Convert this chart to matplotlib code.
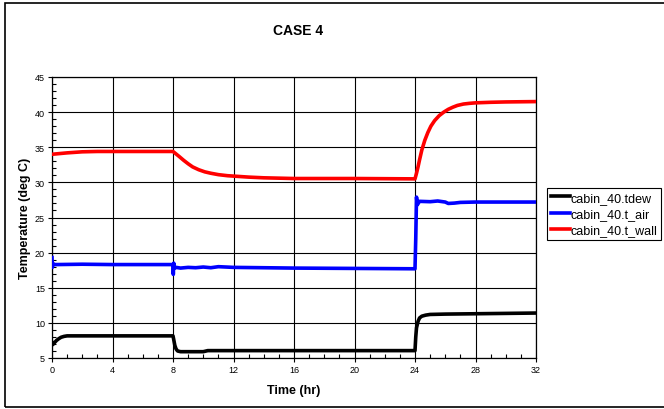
import matplotlib
matplotlib.use("Agg")
import matplotlib.pyplot as plt
from matplotlib.patches import Rectangle
from matplotlib.ticker import MultipleLocator

plt.rcParams['font.family'] = ['Liberation Sans', 'DejaVu Sans']

# values (time in hr, temperature in deg C)
tdew_t = [0, 0.05, 0.15, 0.3, 0.45, 0.6, 0.8, 1.0, 2, 8, 8.05, 8.12, 8.2, 8.3, 8.5, 10, 10.3,
          16, 24, 24.05, 24.1, 24.2, 24.3, 24.45, 24.7, 25, 26, 28, 32]
tdew_v = [7.2, 6.9, 7.15, 7.5, 7.75, 7.95, 8.08, 8.15, 8.15, 8.15, 7.6, 6.8, 6.3, 6.0, 5.9, 5.9,
          6.05, 6.05, 6.05, 8.0, 9.3, 10.2, 10.7, 10.95, 11.1, 11.2, 11.25, 11.3, 11.4]

air_t = [0, 0.02, 0.05, 0.1, 0.3, 2, 4, 8, 8.02, 8.05, 8.1, 8.2, 8.5, 9, 9.5, 10, 10.5,
         11, 12, 16, 20, 24, 24.05, 24.1, 24.15, 24.3, 25, 25.5, 26, 26.2, 26.6, 27, 28, 32]
air_v = [19.3, 17.9, 18.5, 18.3, 18.3, 18.35, 18.3, 18.3, 16.9, 18.5, 17.8, 17.9, 17.8, 17.9,
         17.85, 17.95, 17.85, 18.0, 17.9, 17.8, 17.75, 17.7, 22.0, 27.9, 26.8, 27.3, 27.25,
         27.35, 27.2, 27.0, 27.05, 27.15, 27.2, 27.2]

wall_t = [0, 0.5, 1, 2, 3, 8, 8.2, 8.4, 8.7, 9.0, 9.3, 9.7, 10.1, 10.5, 11.0, 11.6, 12.3,
          13, 14, 15, 16, 20, 24, 24.1, 24.2, 24.3, 24.45, 24.65, 24.85, 25.05, 25.3, 25.6,
          25.9, 26.2, 26.5, 26.8, 27.2, 27.6, 28, 29, 30, 32]
wall_v = [34.0, 34.1, 34.2, 34.35, 34.4, 34.4, 34.05, 33.7, 33.15, 32.65, 32.2, 31.8, 31.5,
          31.3, 31.1, 30.95, 30.85, 30.75, 30.65, 30.6, 30.55, 30.55, 30.5, 31.3, 32.2, 33.2,
          34.6, 36.0, 37.1, 38.0, 38.8, 39.5, 40.0, 40.4, 40.7, 40.95, 41.15, 41.25, 41.32,
          41.4, 41.45, 41.5]

labels = ["cabin_40.tdew", "cabin_40.t_air", "cabin_40.t_wall"]
colors = ["black", "blue", "red"]

W, H = 664, 410
fig = plt.figure(figsize=(W / 100, H / 100), dpi=100)
ax = fig.add_axes([52 / W, 1 - 359 / H, (536 - 52) / W, (359 - 78) / H])

for tt, vv, lab, col in zip([tdew_t, air_t, wall_t], [tdew_v, air_v, wall_v], labels, colors):
    ax.plot(tt, vv, color=col, lw=2.6, label=lab, solid_joinstyle='round', zorder=3)

ax.set_xlim(0, 32)
ax.set_ylim(5, 45)
ax.xaxis.set_major_locator(MultipleLocator(4))
ax.xaxis.set_minor_locator(MultipleLocator(1))
ax.yaxis.set_major_locator(MultipleLocator(5))
ax.yaxis.set_minor_locator(MultipleLocator(1))
ax.tick_params(which='major', direction='out', length=3, width=0.8, labelsize=6.5, pad=2)
ax.tick_params(which='minor', direction='in', length=3, width=0.8)
ax.grid(True, which='major', color='black', lw=0.8)
ax.set_axisbelow(True)
for s in ax.spines.values():
    s.set_color('black')
    s.set_linewidth(0.9)

ax.set_xlabel("Time (hr)", fontsize=9, fontweight='bold', labelpad=7)
ax.set_ylabel("Temperature (deg C)", fontsize=9, fontweight='bold', labelpad=3)
fig.text(298 / W, 1 - 31 / H, "CASE 4", fontsize=10, fontweight='bold', ha='center', va='center')

leg = fig.legend(loc='upper left', bbox_to_anchor=(547 / W, 1 - 189 / H), borderaxespad=0,
                 fontsize=9, handlelength=1.5, handletextpad=0.1, labelspacing=0.35,
                 borderpad=0.3, fancybox=False, framealpha=1, edgecolor='black')
leg.get_frame().set_linewidth(0.8)

# outer chart border
fig.patches.append(Rectangle((5 / W, 1 - 408 / H), 1.0, (408 - 4) / H, transform=fig.transFigure,
                             fill=False, edgecolor='black', lw=1.2))

fig.savefig("out.png", dpi=100)
